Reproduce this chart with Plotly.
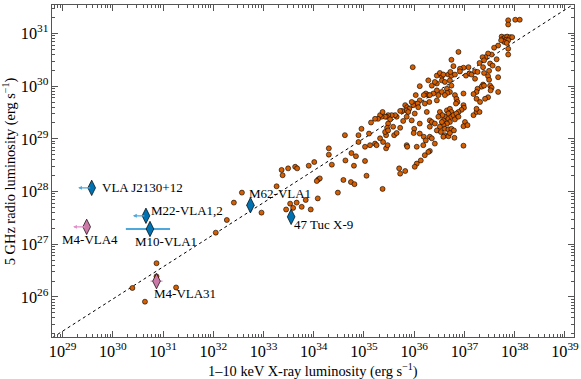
import plotly.graph_objects as go

# log10 luminosities of the comparison sample (X-ray 1-10 keV, radio 5 GHz)
lx_sample = [
    37.87, 37.87, 38.01, 38.10, 37.74, 37.77, 37.81, 37.85, 37.91, 37.95, 37.83, 37.87,
    37.79, 37.84, 37.73, 37.87, 37.87, 37.67, 37.59, 37.54, 37.47, 37.42, 37.36, 37.39,
    37.51, 37.56, 37.64, 37.67, 37.37, 37.30, 36.88, 36.74, 36.78, 37.08, 36.98, 36.91,
    36.28, 36.11, 36.23, 36.28, 36.19, 36.03, 36.11, 36.01, 36.07, 35.98, 35.95, 36.30,
    36.21, 36.25, 36.08, 35.82, 35.86, 35.90, 35.84, 35.88, 35.76, 35.72, 36.01, 35.65,
    35.62, 35.55, 35.48, 35.45, 35.52, 35.42, 35.35, 35.32, 35.28, 35.37, 35.22, 35.14,
    35.48, 35.46, 35.58, 36.00, 36.11, 36.31, 35.95, 35.78, 35.85, 34.95, 35.72,
    36.45, 36.55, 36.51, 36.58, 36.68, 36.74, 36.72, 36.81, 36.91, 37.03, 37.10, 37.14,
    37.21, 37.26, 37.39, 37.49, 37.47, 37.49, 37.67, 36.35, 36.45, 36.41, 36.55, 36.61,
    36.71, 36.74, 36.65, 36.71, 36.66, 36.55, 36.45, 36.38, 36.31, 36.61, 36.45, 36.48,
    37.21, 37.37, 37.34, 37.26, 37.24, 37.18, 37.39, 37.51, 37.54, 37.52, 37.67, 37.47,
    37.41, 36.98, 36.81, 36.84, 36.86, 36.83, 37.24, 37.31, 36.98, 36.99, 36.94, 36.88,
    37.18, 37.24, 37.30, 37.24, 36.65, 36.71, 36.74, 36.68, 36.61, 36.58, 36.68, 36.74,
    36.78, 36.81, 36.84, 36.88, 36.71, 36.65, 36.58, 36.51, 36.61, 36.68, 36.74, 37.01,
    36.98, 37.06, 36.35, 36.41, 36.31, 36.51, 36.56, 36.48, 36.55,
    36.31, 36.35, 36.41, 36.45, 36.53, 36.61, 36.58, 36.68, 36.71, 36.80, 36.79, 36.98, 36.31,
    34.62, 34.89, 35.10, 35.32, 35.44, 35.42, 35.48, 35.60, 35.65, 35.99, 36.11, 36.19,
    36.23, 36.18, 36.28, 36.21, 36.13, 36.05, 36.01, 35.85, 35.86, 36.05, 35.70, 35.72,
    35.82, 35.37, 35.05, 35.02, 34.80, 34.74, 34.81, 34.59, 34.48, 34.08, 33.84, 33.76,
    33.94, 34.09, 34.12, 34.06, 33.90, 34.01, 34.30, 34.30, 34.36, 34.63, 34.75, 34.84,
    34.89, 35.02, 35.12, 35.22, 35.25, 35.44, 35.47, 35.38,
    30.87, 30.87, 30.39, 31.26, 32.05, 32.27, 32.41, 32.57, 32.96, 33.26, 33.36, 33.38,
    33.49, 33.63, 33.67, 33.53, 33.66, 33.45, 33.59, 30.64, 35.97,
]
lr_sample = [
    31.25, 31.17, 31.26, 31.26, 30.94, 30.90, 30.93, 30.94, 30.93, 30.93, 30.88, 30.87,
    30.84, 30.82, 30.87, 30.71, 30.60, 30.77, 30.73, 30.60, 30.62, 30.55, 30.55, 30.49,
    30.43, 30.39, 30.51, 30.33, 30.36, 30.44, 30.65, 30.50, 30.38, 30.36, 30.35, 30.33,
    30.11, 30.00, 29.86, 29.83, 29.83, 29.83, 29.73, 29.67, 29.67, 29.64, 29.70, 29.70,
    29.67, 29.51, 29.60, 29.64, 29.60, 29.57, 29.54, 29.51, 29.53, 29.53, 29.48, 29.42,
    29.45, 29.45, 29.45, 29.42, 29.37, 29.42, 29.42, 29.45, 29.38, 29.51, 29.38, 29.31,
    29.29, 29.21, 29.23, 29.19, 29.29, 29.35, 29.35, 29.34, 29.42, 29.19, 29.21,
    30.20, 30.19, 30.25, 30.22, 30.22, 30.20, 30.27, 30.22, 30.28, 30.20, 30.24, 30.22,
    30.28, 30.27, 30.25, 30.29, 30.19, 30.12, 30.17, 30.01, 30.05, 30.08, 30.11, 30.08,
    30.11, 30.01, 29.95, 29.89, 29.87, 29.89, 29.92, 29.86, 29.83, 29.83, 29.73, 29.83,
    30.14, 30.03, 29.99, 29.95, 29.89, 29.85, 30.01, 30.01, 29.97, 29.92, 29.89, 29.79,
    29.76, 29.86, 29.83, 29.76, 29.70, 29.67, 29.76, 29.70, 29.64, 29.59, 29.55, 29.51,
    29.45, 29.51, 29.51, 29.57, 29.54, 29.57, 29.51, 29.48, 29.42, 29.35, 29.38, 29.42,
    29.45, 29.37, 29.48, 29.42, 29.32, 29.29, 29.26, 29.23, 29.19, 29.18, 29.19, 29.32,
    29.24, 29.26, 29.32, 29.29, 29.23, 29.51, 29.45, 29.42, 29.32,
    29.04, 29.01, 28.91, 29.16, 29.13, 29.07, 29.04, 29.05, 29.11, 29.02, 29.16, 28.87, 28.77,
    29.07, 29.07, 29.10, 29.01, 29.07, 29.13, 29.16, 29.07, 29.11, 29.11, 29.10, 29.04,
    28.97, 28.88, 28.75, 28.69, 28.59, 28.53, 28.47, 28.88, 28.85, 28.85, 28.44, 28.34,
    28.39, 28.05, 28.30, 28.58, 28.49, 28.18, 28.14, 28.22, 27.98, 27.87, 27.84, 27.71,
    27.66, 28.23, 28.25, 28.20, 28.49, 28.56, 28.82, 28.70, 28.51, 28.59, 28.73, 28.67,
    28.94, 28.85, 28.88, 28.91, 28.88, 28.82, 28.88, 28.94,
    26.64, 26.39, 26.17, 26.18, 27.22, 27.46, 27.79, 27.98, 27.60, 28.10, 28.41, 28.31,
    28.44, 28.47, 28.44, 27.77, 27.79, 27.66, 27.69, 25.91, 30.36,
]

# correlation line (log10 endpoints)
line_lx = [28.5, 39.5]
line_lr = [25.045, 31.755]

# named sources: log10 Lx, log10 Lr
src_names = ["VLA J2130+12", "M22-VLA1,2", "M10-VLA1", "M62-VLA1", "47 Tuc X-9", "M4-VLA4", "M4-VLA31"]
src_lx = [29.58, 30.66, 30.74, 32.74, 33.55, 29.48, 30.87]
src_lr = [28.07, 27.54, 27.29, 27.74, 27.52, 27.33, 26.30]
src_group = ["blue", "blue", "blue", "blue", "blue", "pink", "pink"]
# upper limits on Lx (arrow tip, log10)
src_lx_limit = [29.31, 30.40, None, None, None, 29.21, None]
# M10-VLA1 and M4-VLA31 error bars (log10 span)
m10_lx_lo, m10_lx_hi = 30.26, 31.14
m10_lr_lo, m10_lr_hi = 27.18, 27.41
m4v31_lx_lo, m4v31_lx_hi = 30.75, 30.99
m4v31_lr_lo, m4v31_lr_hi = 26.20, 26.41

BLUE = "#0072B2"
BLUE_ERR = "#4fa8dc"
PINK = "#CC79A7"
PINK_ERR = "#e28fcc"
ORANGE = "#D55E00"
FONT = "Liberation Serif"

fig = go.Figure()

fig.add_trace(go.Scatter(
    x=[10 ** v for v in line_lx], y=[10 ** v for v in line_lr], mode="lines",
    line=dict(color="black", width=1, dash="3px,3px"), hoverinfo="skip"))

fig.add_trace(go.Scatter(
    x=[10 ** v for v in lx_sample], y=[10 ** v for v in lr_sample], mode="markers",
    marker=dict(size=5, color=ORANGE, line=dict(color="black", width=0.6))))

# M10-VLA1 error bars
i = src_names.index("M10-VLA1")
fig.add_trace(go.Scatter(
    x=[10 ** src_lx[i]], y=[10 ** src_lr[i]], mode="markers", marker=dict(size=1, color=BLUE_ERR),
    error_x=dict(type="data", symmetric=False, array=[10 ** m10_lx_hi - 10 ** src_lx[i]],
                 arrayminus=[10 ** src_lx[i] - 10 ** m10_lx_lo], color=BLUE_ERR, thickness=2, width=0),
    error_y=dict(type="data", symmetric=False, array=[10 ** m10_lr_hi - 10 ** src_lr[i]],
                 arrayminus=[10 ** src_lr[i] - 10 ** m10_lr_lo], color=BLUE_ERR, thickness=1.5, width=0)))
i = src_names.index("M4-VLA31")
fig.add_trace(go.Scatter(
    x=[10 ** src_lx[i]], y=[10 ** src_lr[i]], mode="markers", marker=dict(size=1, color=PINK_ERR),
    error_x=dict(type="data", symmetric=False, array=[10 ** m4v31_lx_hi - 10 ** src_lx[i]],
                 arrayminus=[10 ** src_lx[i] - 10 ** m4v31_lx_lo], color=PINK_ERR, thickness=1.2, width=0),
    error_y=dict(type="data", symmetric=False, array=[10 ** m4v31_lr_hi - 10 ** src_lr[i]],
                 arrayminus=[10 ** src_lr[i] - 10 ** m4v31_lr_lo], color=PINK_ERR, thickness=1.2, width=0)))

annotations = []
for name, lx, lr, grp, lim in zip(src_names, src_lx, src_lr, src_group, src_lx_limit):
    if lim is not None:
        col = BLUE_ERR if grp == "blue" else PINK_ERR
        annotations.append(dict(
            x=lim, y=lr, ax=lx, ay=lr, xref="x", yref="y", axref="x", ayref="y",
            text="", showarrow=True, arrowhead=2, arrowsize=0.6, arrowwidth=1.3, arrowcolor=col))

for grp, col in (("blue", BLUE), ("pink", PINK)):
    xs = [10 ** lx for lx, g in zip(src_lx, src_group) if g == grp]
    ys = [10 ** lr for lr, g in zip(src_lr, src_group) if g == grp]
    fig.add_trace(go.Scatter(
        x=xs, y=ys, mode="markers",
        marker=dict(symbol="diamond-tall", size=11, color=col, line=dict(color="black", width=0.7))))

# label offsets in pixels
label_shift = {
    "VLA J2130+12": (8, 0),
    "M22-VLA1,2": (3, 5),
    "M10-VLA1": (-17, -13),
    "M62-VLA1": (-3, 12),
    "47 Tuc X-9": (1, -8),
    "M4-VLA4": (-27, -13),
    "M4-VLA31": (-5, -12),
}
for name, lx, lr in zip(src_names, src_lx, src_lr):
    dx, dy = label_shift[name]
    annotations.append(dict(
        x=lx, y=lr, xref="x", yref="y", text=name, showarrow=False, xanchor="left",
        yanchor="middle", xshift=dx, yshift=dy, font=dict(family=FONT, size=13, color="black")))

# axis titles placed as paper annotations
annotations.append(dict(
    x=0.5, y=-0.101, xref="paper", yref="paper", showarrow=False, xanchor="center", yanchor="middle",
    text="1–10 keV X-ray luminosity (erg s<sup>−1</sup>)", font=dict(family=FONT, size=14.4)))
annotations.append(dict(
    x=-0.082, y=0.5, xref="paper", yref="paper", showarrow=False, xanchor="center", yanchor="middle",
    textangle=-90, text="5 GHz radio luminosity (erg s<sup>−1</sup>)", font=dict(family=FONT, size=14.4)))

axis_common = dict(
    type="log", showgrid=False, zeroline=False, showline=True, linecolor="#555", linewidth=1,
    mirror="allticks", ticks="inside", ticklen=6, tickcolor="#555", exponentformat="power",
    dtick=1, tickfont=dict(family=FONT, size=13, color="black"), automargin=False,
    minor=dict(ticks="inside", ticklen=3, tickcolor="#555", showgrid=False, dtick="D1"),
)

fig.update_layout(
    width=581, height=379,
    margin=dict(l=52, r=7, t=5, b=42),
    paper_bgcolor="white", plot_bgcolor="white",
    showlegend=False,
    font=dict(family=FONT, size=13, color="black"),
    xaxis=dict(axis_common, range=[28.79, 39.18]),
    yaxis=dict(axis_common, range=[25.24, 31.54]),
    annotations=annotations,
)

fig.write_html("out.html", config={"displayModeBar": False},
               post_script="document.body.style.margin='0px';")
